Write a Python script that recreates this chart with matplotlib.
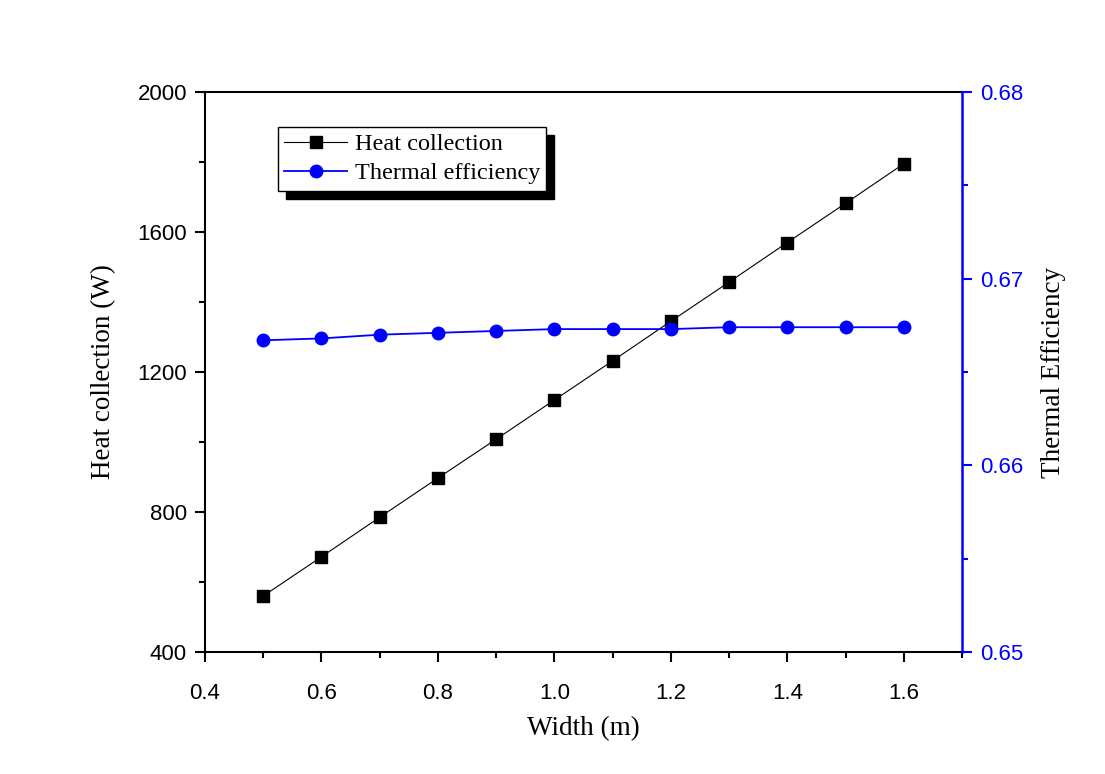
import matplotlib
matplotlib.use("Agg")
import matplotlib.pyplot as plt
from matplotlib.ticker import MultipleLocator

width = [0.5, 0.6, 0.7, 0.8, 0.9, 1.0, 1.1, 1.2, 1.3, 1.4, 1.5, 1.6]
heat = [560, 672, 785, 897, 1008, 1120, 1232, 1345, 1457, 1570, 1682, 1795]
eff = [0.6667, 0.6668, 0.6670, 0.6671, 0.6672, 0.6673, 0.6673, 0.6673,
       0.6674, 0.6674, 0.6674, 0.6674]

fig = plt.figure(figsize=(11.05, 7.74), dpi=100)
ax = fig.add_axes([0.1855, 0.1576, 0.8706 - 0.1855, 0.8811 - 0.1576])
ax2 = ax.twinx()

l1, = ax.plot(width, heat, color='black', lw=0.8, marker='s', ms=8,
              label='Heat collection', zorder=3)
l2, = ax2.plot(width, eff, color='blue', lw=1.3, marker='o', ms=9,
               label='Thermal efficiency', zorder=3)

ax.set_xlim(0.4, 1.7)
ax.set_ylim(400, 2000)
ax2.set_ylim(0.65, 0.68)
ax.xaxis.set_minor_locator(MultipleLocator(0.1))
ax.yaxis.set_minor_locator(MultipleLocator(200))
ax2.yaxis.set_minor_locator(MultipleLocator(0.005))

tickfont = dict(family='Liberation Sans', size=16)
ax.set_xticks([0.4, 0.6, 0.8, 1.0, 1.2, 1.4, 1.6])
ax.set_xticklabels(['0.4', '0.6', '0.8', '1.0', '1.2', '1.4', '1.6'], **tickfont)
ax.set_yticks([400, 800, 1200, 1600, 2000])
ax.set_yticklabels(['400', '800', '1200', '1600', '2000'], **tickfont)
ax2.set_yticks([0.65, 0.66, 0.67, 0.68])
ax2.set_yticklabels(['0.65', '0.66', '0.67', '0.68'], color='blue', **tickfont)

ax.tick_params(which='both', direction='out', width=1.5)
ax.tick_params(which='major', length=7, pad=6)
ax.tick_params(axis='x', which='major', pad=15)
ax.tick_params(which='minor', length=4)
ax2.tick_params(which='both', direction='out', width=1.5, colors='blue')
ax2.tick_params(which='major', length=7, pad=6)
ax2.tick_params(which='minor', length=4)

for s in ['left', 'bottom', 'top']:
    ax.spines[s].set_linewidth(1.5)
    ax2.spines[s].set_visible(False)
ax.spines['right'].set_visible(False)
ax2.spines['right'].set_color('blue')
ax2.spines['right'].set_linewidth(1.8)

labfont = dict(family='Liberation Serif', size=19.5)
ax.set_xlabel('Width (m)', labelpad=9, **labfont)
ax.set_ylabel('Heat collection (W)', labelpad=15, **labfont)
ax2.set_ylabel('Thermal Efficiency', labelpad=13, **labfont)

leg = ax.legend([l1, l2], ['Heat collection', 'Thermal efficiency'],
                loc='upper left', bbox_to_anchor=(0.0965, 0.9375),
                prop=dict(family='Liberation Serif', size=17.5),
                fancybox=False, edgecolor='black', framealpha=1,
                handlelength=2.6, handletextpad=0.3, borderpad=0.25,
                labelspacing=0.3, borderaxespad=0,
                shadow={'ox': 6, 'oy': -6, 'facecolor': 'black',
                        'edgecolor': 'black', 'alpha': 1})
leg.get_frame().set_linewidth(1.0)
leg.set_zorder(10)

fig.savefig('out.png', dpi=100)
